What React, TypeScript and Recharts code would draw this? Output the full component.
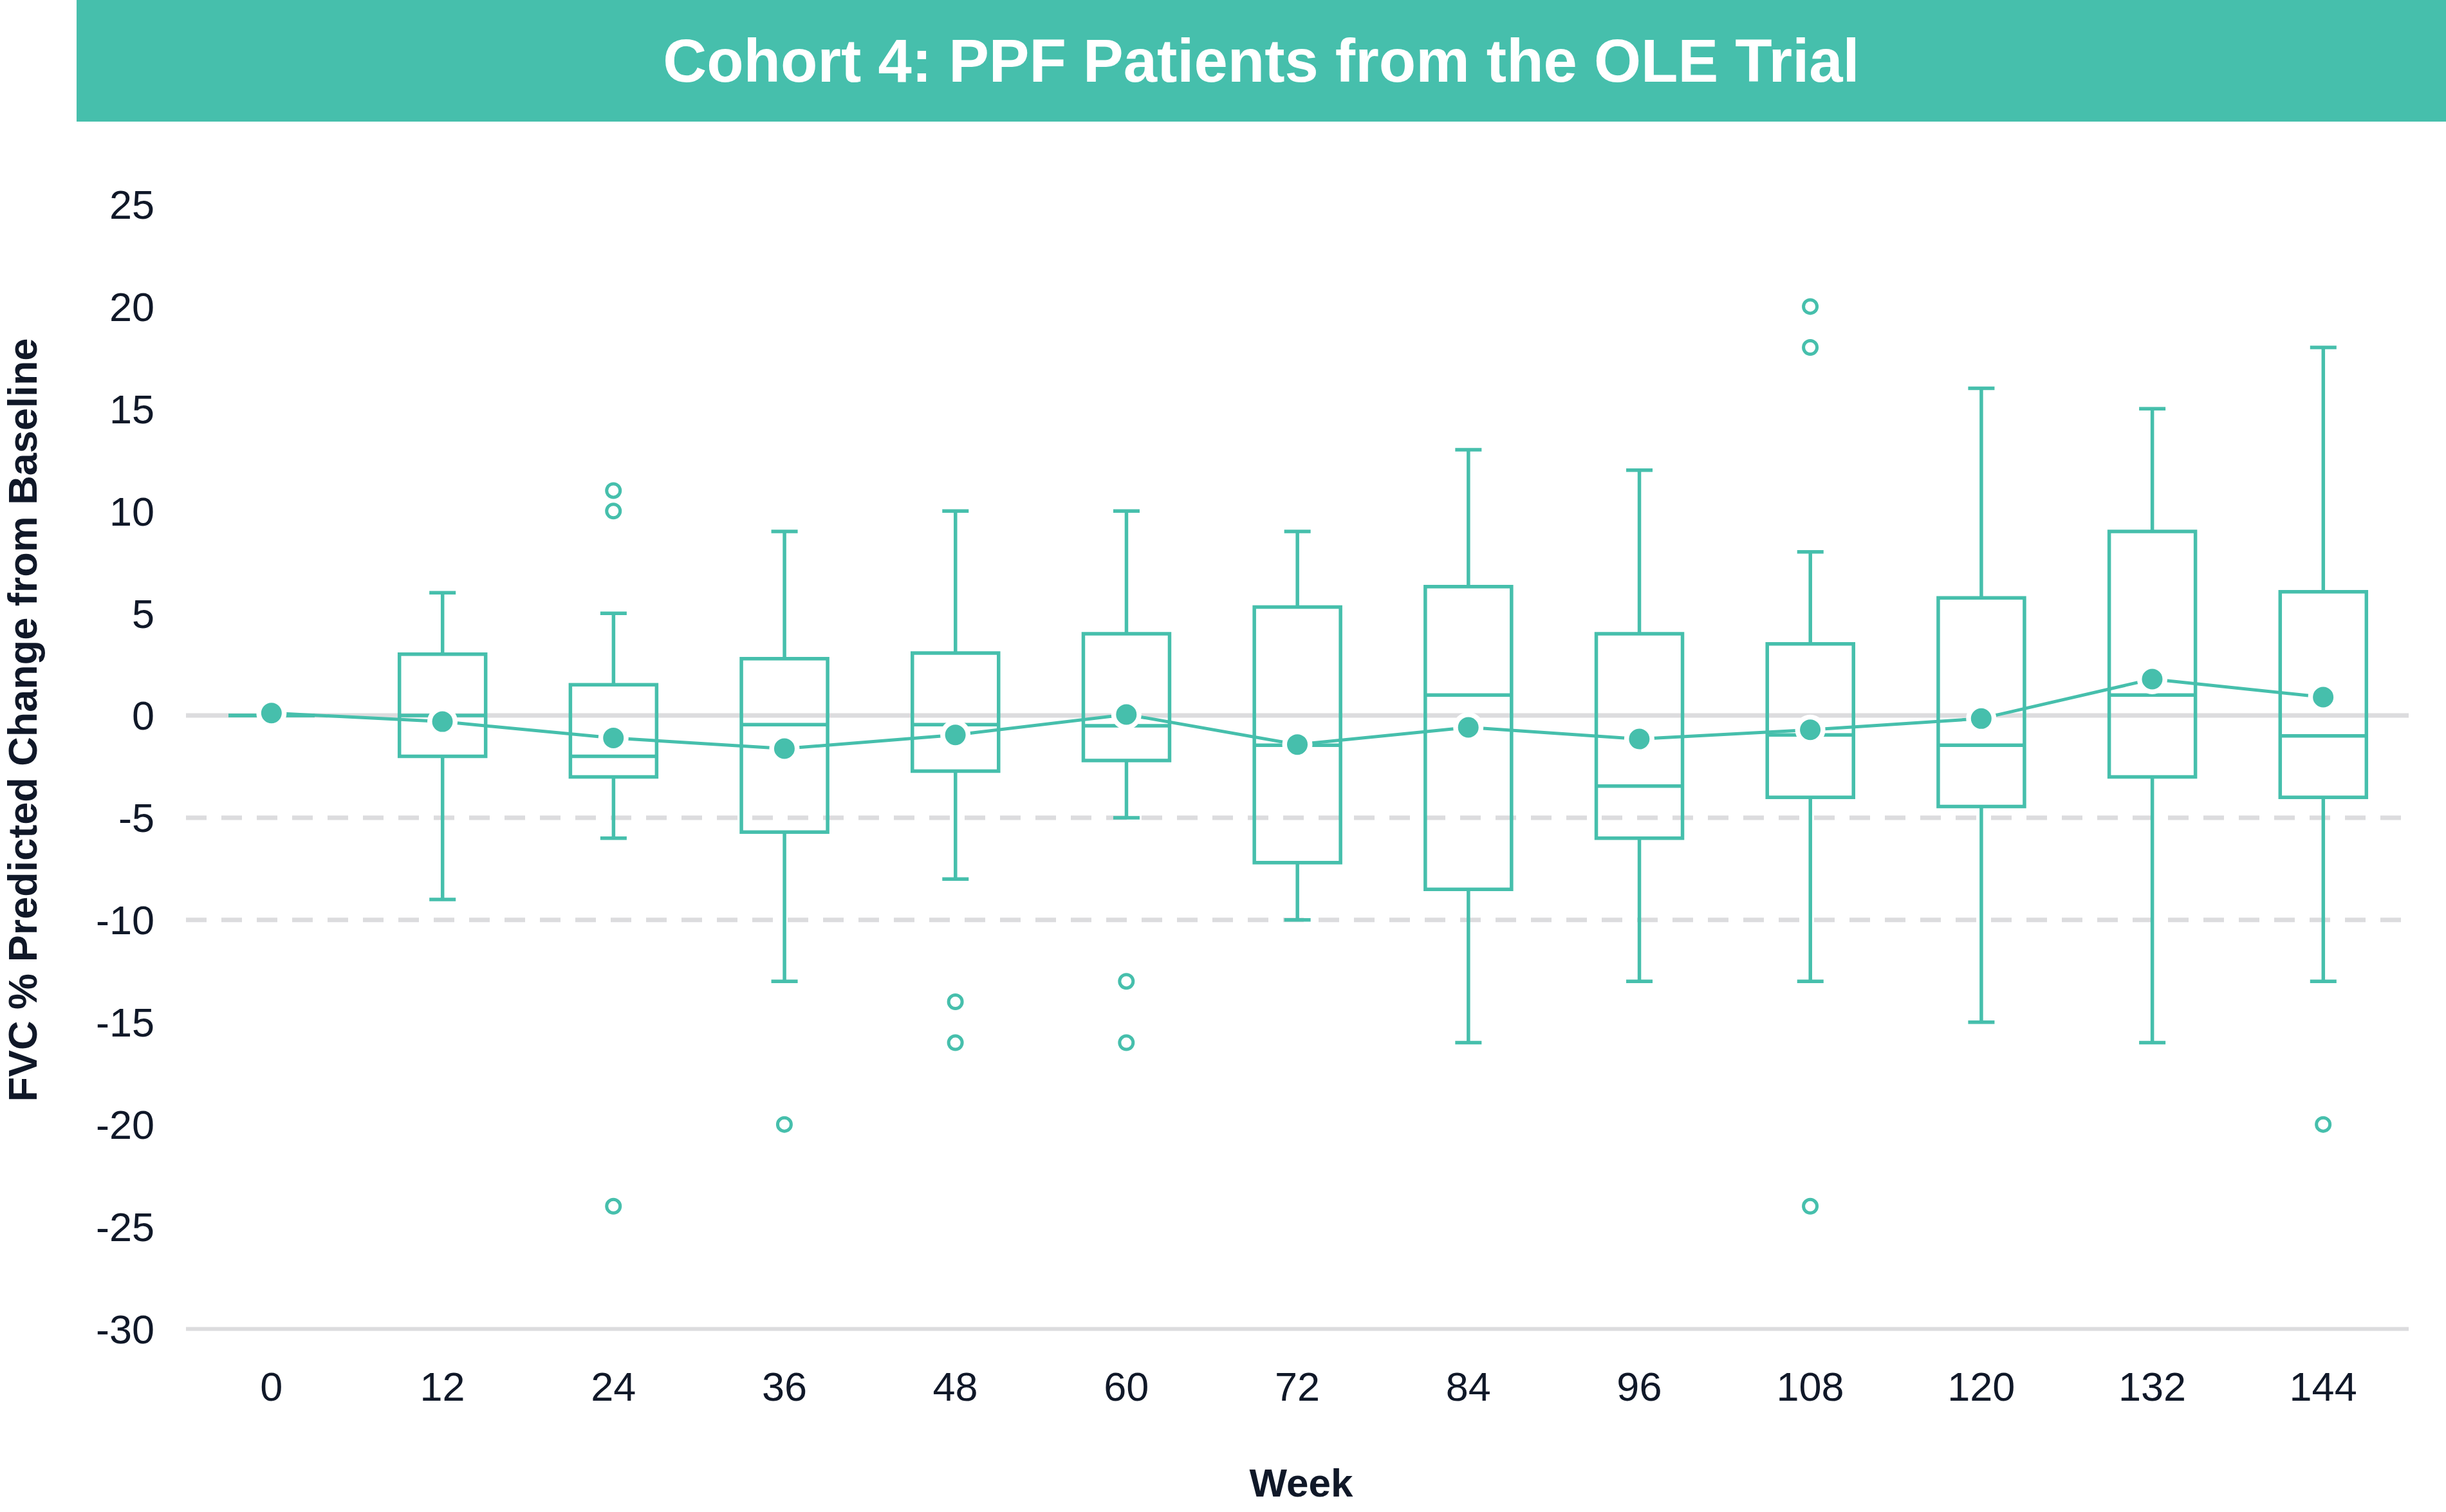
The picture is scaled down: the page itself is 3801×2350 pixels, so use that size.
import React from "react";
import { ComposedChart, Bar, Line, Scatter, XAxis, YAxis, CartesianGrid } from "recharts";

if (typeof document !== "undefined") {
  document.body.style.margin = "0";
}

// ---- data ----
const weeks = [0, 12, 24, 36, 48, 60, 72, 84, 96, 108, 120, 132, 144];
const whiskerLow = [0, -9, -6, -13, -8, -5, -10, -16, -13, -13, -15, -16, -13];
const q1Values = [0, -2, -3, -5.7, -2.72, -2.2, -7.2, -8.5, -6, -4, -4.45, -3, -4];
const medianValues = [0, 0, -2, -0.45, -0.45, -0.5, -1.45, 1, -3.45, -0.95, -1.45, 1, -1];
const q3Values = [0, 3, 1.5, 2.78, 3.05, 4, 5.3, 6.3, 4, 3.5, 5.75, 9, 6.05];
const whiskerHigh = [0, 6, 5, 9, 10, 10, 9, 13, 12, 8, 16, 15, 18];
const meanValues = [0.12, -0.3, -1.1, -1.62, -0.95, 0.05, -1.42, -0.58, -1.15, -0.7, -0.15, 1.78, 0.9];
const outlierWeeks = [24, 24, 24, 36, 48, 48, 60, 60, 108, 108, 108, 144];
const outlierValues = [11, 10, -24, -20, -14, -16, -13, -16, 20, 18, -24, -20];
const yTicks = [25, 20, 15, 10, 5, 0, -5, -10, -15, -20, -25, -30];

const TITLE = "Cohort 4: PPF Patients from the OLE Trial";
const Y_LABEL = "FVC % Predicted Change from Baseline";
const X_LABEL = "Week";

// ---- styles ----
const TEAL = "#46BFAC";
const GRID = "#DCDCDE";
const INK = "#101828";
const FONT = "'Liberation Sans', Arial, Helvetica, sans-serif";

const data = weeks.map((w, i) => ({
  week: w,
  low: whiskerLow[i],
  q1: q1Values[i],
  median: medianValues[i],
  q3: q3Values[i],
  high: whiskerHigh[i],
  mean: meanValues[i],
}));

const outliers = outlierWeeks.map((w, i) => ({ week: w, value: outlierValues[i] }));

function BoxShape(props: any) {
  const { x, y, width, height, payload } = props;
  if (payload == null || x == null || y == null) return null;
  const h = height || 0;
  const top = Math.min(y, y + h);
  const bottom = Math.max(y, y + h);
  const span = payload.high - payload.low;
  const py = (v: number) => (span === 0 ? top : top + ((payload.high - v) / span) * (bottom - top));
  const cx = x + width / 2;
  const yHigh = py(payload.high);
  const yQ3 = py(payload.q3);
  const yMed = py(payload.median);
  const yQ1 = py(payload.q1);
  const yLow = py(payload.low);
  const cap = 41;
  const sw = 5.5;
  return (
    <g>
      {yQ3 - yHigh > 0 && <line x1={cx} x2={cx} y1={yHigh} y2={yQ3} stroke={TEAL} strokeWidth={sw} />}
      {yLow - yQ1 > 0 && <line x1={cx} x2={cx} y1={yQ1} y2={yLow} stroke={TEAL} strokeWidth={sw} />}
      <line x1={cx - cap / 2} x2={cx + cap / 2} y1={yHigh} y2={yHigh} stroke={TEAL} strokeWidth={sw} />
      <line x1={cx - cap / 2} x2={cx + cap / 2} y1={yLow} y2={yLow} stroke={TEAL} strokeWidth={sw} />
      <path
        d={`M${x},${yQ3}H${x + width}V${yQ1}H${x}Z`}
        fill="none"
        stroke={TEAL}
        strokeWidth={sw}
      />
      <line x1={x} x2={x + width} y1={yMed} y2={yMed} stroke={TEAL} strokeWidth={sw} />
    </g>
  );
}

function MeanDot(props: any) {
  const { cx, cy, index } = props;
  if (cx == null || cy == null) return <g key={`m-${index}`} />;
  return <circle key={`m-${index}`} cx={cx} cy={cy} r={19.75} fill={TEAL} stroke="#ffffff" strokeWidth={7.5} />;
}

function OutlierShape(props: any) {
  const { cx, cy } = props;
  if (cx == null || cy == null) return null;
  return <circle cx={cx} cy={cy} r={10.5} fill="#ffffff" stroke={TEAL} strokeWidth={5} />;
}

function YLabel() {
  return (
    <text
      x={57}
      y={1119}
      transform="rotate(-90, 57, 1119)"
      textAnchor="middle"
      fontFamily={FONT}
      fontWeight={700}
      fontSize={63}
      fill={INK}
    >
      {Y_LABEL}
    </text>
  );
}

function XLabel() {
  return (
    <text x={2022} y={2326} textAnchor="middle" fontFamily={FONT} fontWeight={700} fontSize={62} fill={INK}>
      {X_LABEL}
    </text>
  );
}

export default function App() {
  return (
    <div style={{ position: "relative", width: 3801, height: 2350, background: "#ffffff", fontFamily: FONT }}>
      <ComposedChart
        width={3801}
        height={2350}
        data={data}
        margin={{ top: 317.5, right: 58, bottom: 84.5, left: 0 }}
      >
        <CartesianGrid
          vertical={false}
          horizontalValues={[0]}
          stroke={GRID}
          strokeWidth={7}
        />
        <CartesianGrid
          vertical={false}
          horizontalValues={[-5, -10]}
          stroke={GRID}
          strokeWidth={7}
          strokeDasharray="32 23"
        />
        <XAxis
          dataKey="week"
          type="category"
          allowDuplicatedCategory={false}
          height={200}
          axisLine={{ stroke: GRID, strokeWidth: 6 }}
          tickLine={false}
          tickSize={0}
          tickMargin={67}
          interval={0}
          tick={{ fontSize: 63, fill: INK, fontFamily: FONT }}
          label={<XLabel />}
        />
        <YAxis
          type="number"
          domain={[-30, 25]}
          ticks={yTicks}
          interval={0}
          width={289}
          axisLine={false}
          tickLine={false}
          tickSize={0}
          tickMargin={49}
          allowDataOverflow
          tick={{ fontSize: 63, fill: INK, fontFamily: FONT }}
          label={<YLabel />}
        />
        <Bar
          dataKey={(d: any) => [d.low, d.high]}
          barSize={134}
          shape={BoxShape}
          isAnimationActive={false}
        />
        <Scatter data={outliers} dataKey="value" shape={OutlierShape} isAnimationActive={false} />
        <Line
          type="linear"
          dataKey="mean"
          stroke={TEAL}
          strokeWidth={5}
          dot={MeanDot}
          activeDot={false}
          isAnimationActive={false}
        />
      </ComposedChart>
      <div
        style={{
          position: "absolute",
          left: 119,
          top: 0,
          width: 3682,
          height: 189,
          background: TEAL,
          color: "#ffffff",
          fontFamily: FONT,
          fontWeight: 700,
          fontSize: 94,
          lineHeight: "189px",
          textAlign: "center",
          whiteSpace: "nowrap",
        }}
      >
        {TITLE}
      </div>
    </div>
  );
}
